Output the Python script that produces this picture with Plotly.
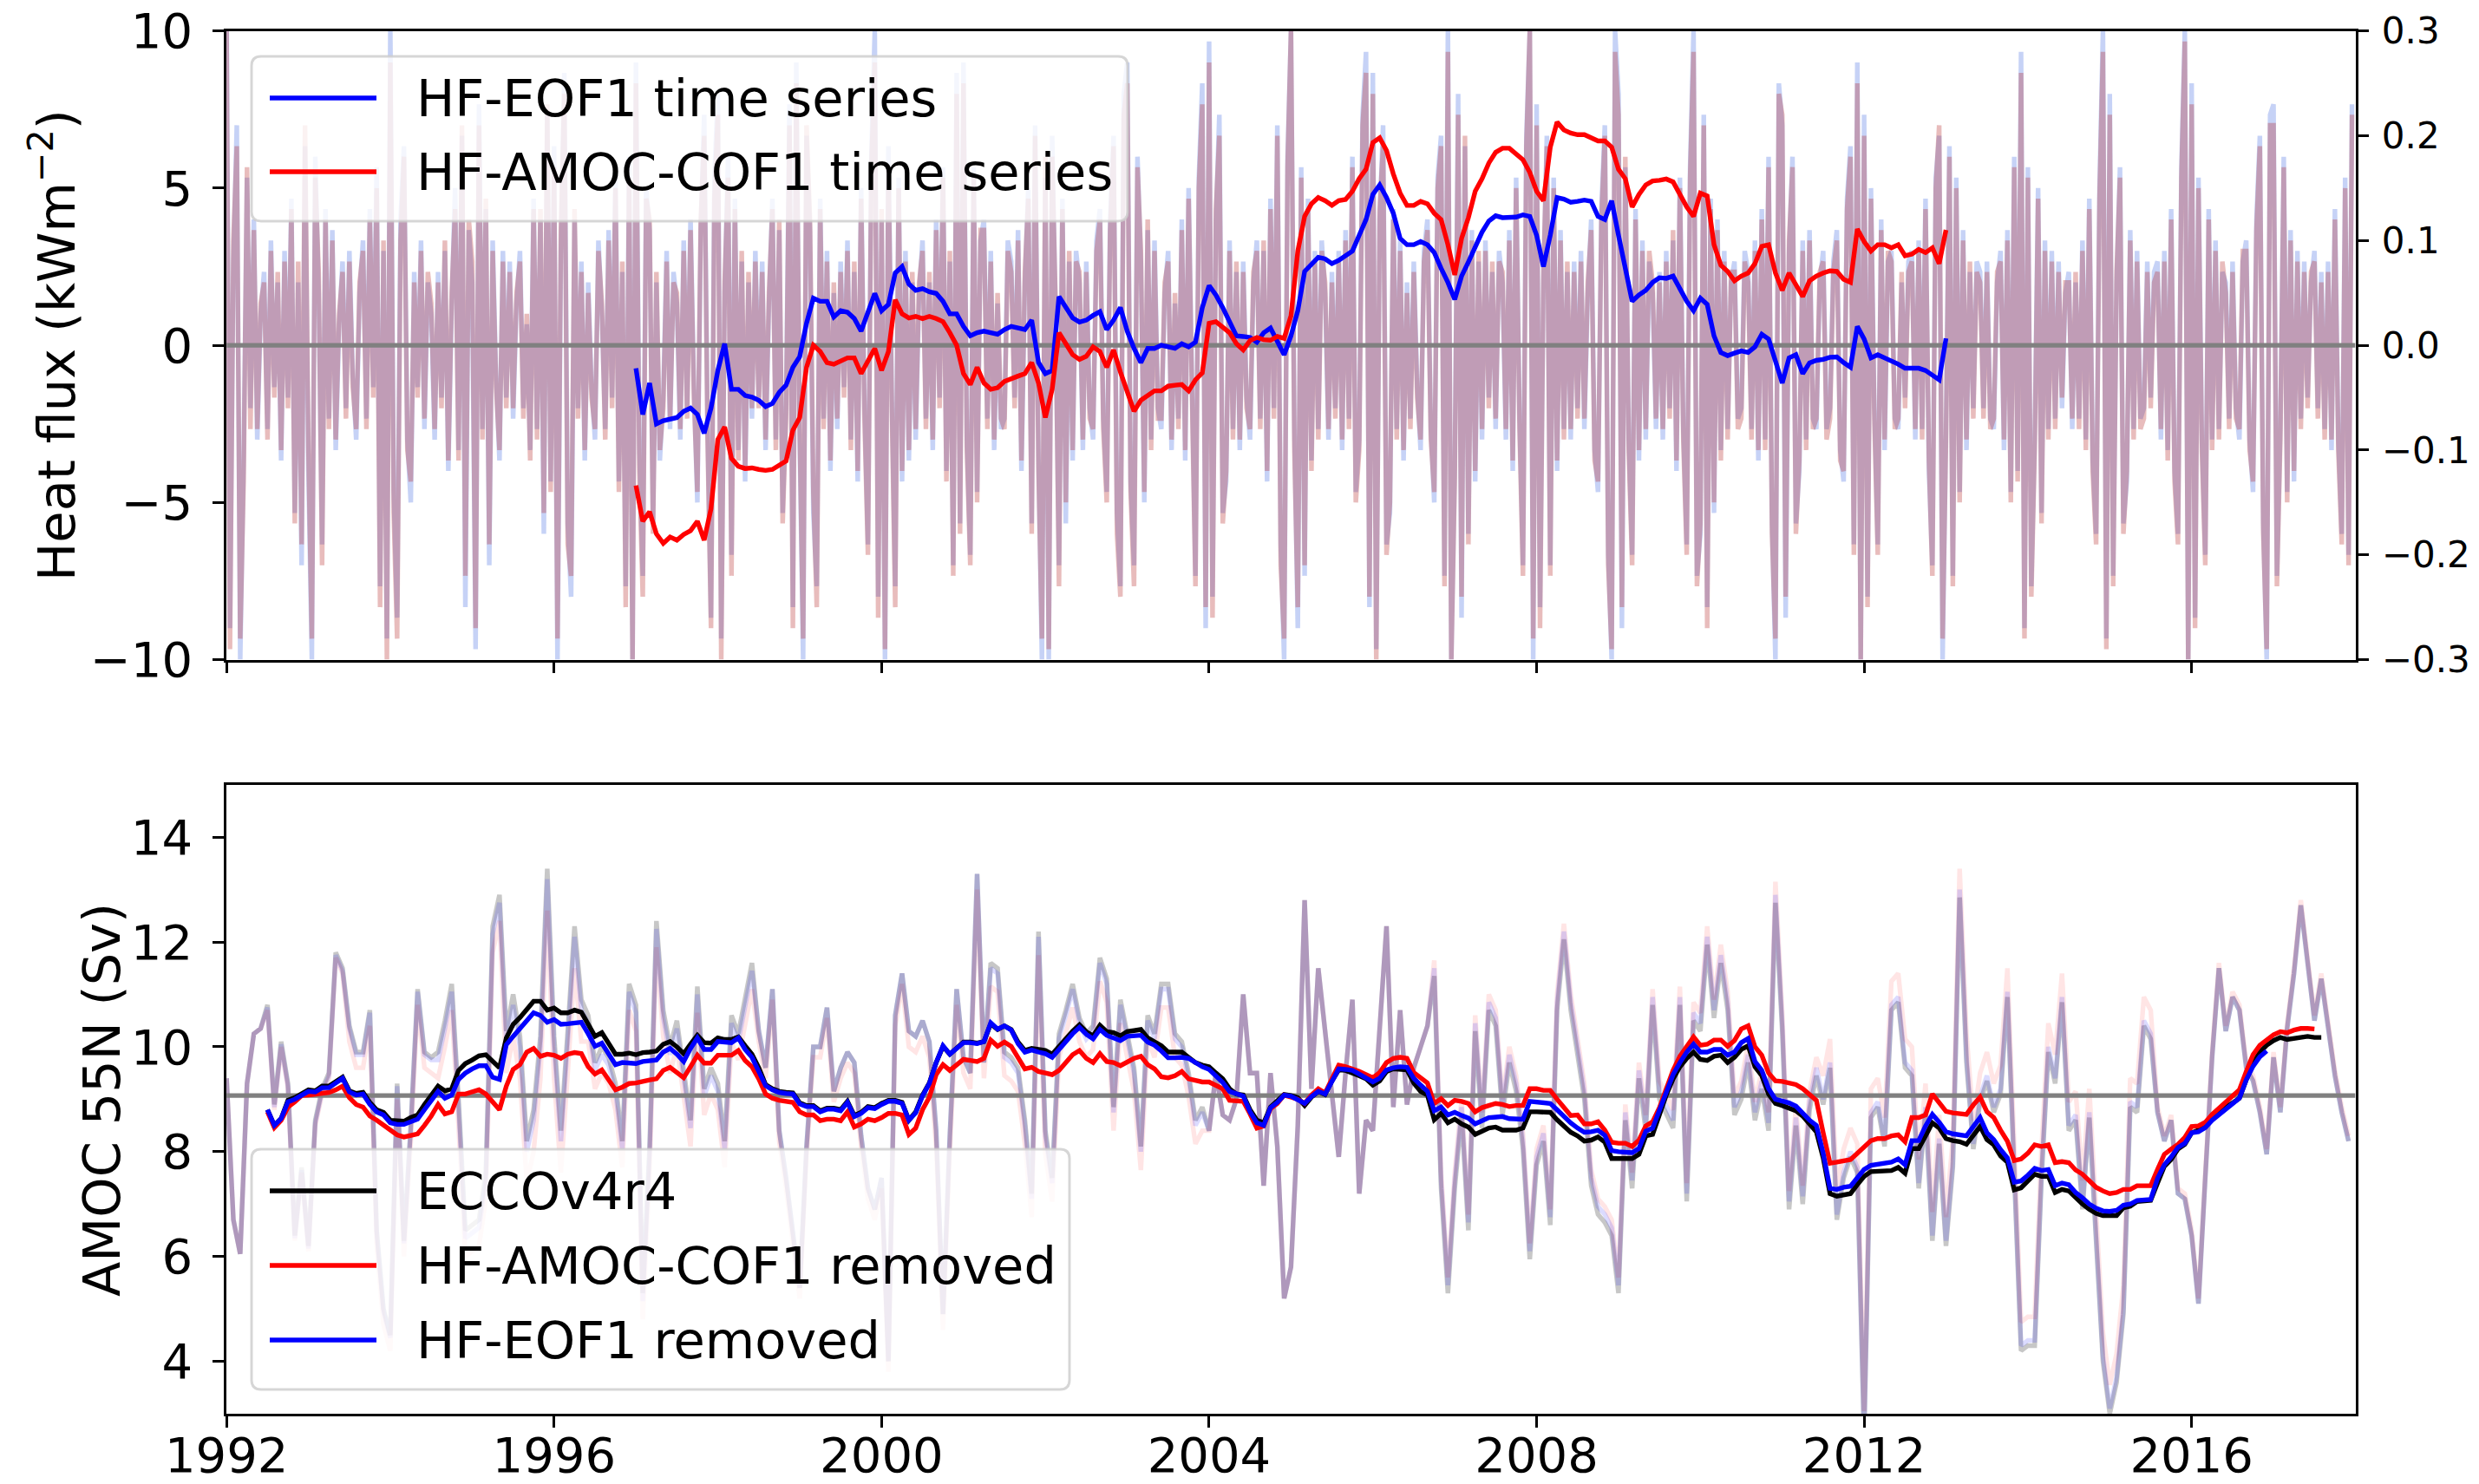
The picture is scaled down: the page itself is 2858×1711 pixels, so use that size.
import numpy as np
import plotly.graph_objects as go

W, H = 2858, 1711
FONT = "DejaVu Sans"

# ---------------- top panel ----------------
# High-frequency principal components (right axis, dimensionless), twice-monthly from Jan 1992, in hundredths
hf_eof1_pc_x100 = [
 33,-27,8,21,-30,-11,16,-6,12,-9,3,7,-8,10,-4,6,-11,9,-5,14,-16,6,-21,19,
 -12,-30,18,5,-19,13,-7,11,-10,2,8,-6,9,-3,-9,5,10,-7,13,-4,17,-23,9,-28,
 30,-14,-26,12,19,-9,-15,7,-4,10,-8,6,3,-9,7,-5,9,-12,4,15,-10,20,-25,11,
 6,-29,23,-8,13,-21,10,-3,-11,9,-5,8,-7,4,9,-6,2,-10,14,-8,12,-18,22,-13,
 19,-30,9,26,-17,-24,12,-6,8,-11,6,-4,-9,10,3,-8,11,-5,16,-13,7,-23,18,-30,
 27,-10,-22,15,11,-17,6,-11,-5,9,-8,7,4,-9,10,-6,12,-4,-15,11,22,-8,-26,16,
 24,-28,5,18,-20,14,-10,8,-13,6,-7,9,-5,8,-10,4,14,-9,11,-16,-6,23,-25,27,
 -9,-30,20,11,-16,-23,14,-7,9,-12,5,-8,8,-4,10,-9,7,-13,15,-6,-19,18,30,-24,
 12,-30,19,-5,-23,16,-13,9,-11,6,-9,5,10,-7,6,-10,12,-5,17,-12,8,-21,26,-17,
 27,-9,-20,17,-14,10,12,-7,9,-10,4,-8,-7,10,8,-5,11,-12,6,15,-17,21,-11,-30,
 16,-30,20,3,-21,14,-17,8,-11,9,6,-10,8,-6,-9,10,13,-7,-14,12,20,-16,-23,24,
 27,-13,-21,18,8,-15,11,-9,10,-6,-8,5,9,-10,4,-7,12,-11,15,-4,-22,16,25,-27,
 29,-24,12,22,-16,-13,10,-8,7,-10,8,-5,-9,6,10,-7,9,-13,14,-6,21,-19,-30,18,
 30,-8,-27,17,-22,14,-11,9,-8,10,5,-9,7,-6,9,-10,11,-7,18,-14,-9,22,28,-25,
 26,-29,12,21,-19,-16,13,-8,10,-11,6,-7,8,-4,-10,9,12,-8,-15,16,20,-22,30,-30,
 -12,24,-26,19,-18,11,-13,8,-9,10,-5,7,-8,9,6,-9,11,-12,16,-7,-21,20,30,-30,
 23,-25,6,20,-21,16,-12,11,-8,7,-9,8,-6,9,-8,5,12,-10,-14,13,21,-20,-30,30,
 24,-27,17,-9,-20,13,-11,10,-9,8,5,-8,7,-9,9,-6,10,-12,16,-8,-19,17,30,-22,
 -18,22,-25,14,-16,12,-10,9,-8,6,8,-7,-6,9,7,-8,10,-11,13,-9,18,-17,-30,25,
 21,-26,9,18,-17,-12,10,-9,11,-7,-8,6,9,-8,-6,8,11,-10,-13,14,19,-19,27,-30,
 22,-24,15,-6,-19,12,-10,8,9,-7,-8,6,-5,8,9,-9,10,-8,14,-12,-21,16,20,-30,
 -8,19,-22,16,-14,11,-10,7,-6,8,7,-6,8,-7,-8,6,9,-10,11,-14,18,-12,28,-27,
 17,-23,-9,15,-16,10,-8,9,-7,8,-6,5,7,-8,6,-7,10,-9,14,-11,-18,15,30,-28,
 24,-22,6,17,-17,-13,11,-8,9,-7,-6,8,-5,7,8,-9,9,-10,13,-12,-18,17,30,-30,
 25,-26,16,-9,-20,13,-9,10,-8,7,6,-7,8,-6,-9,8,10,-9,-14,12,20,-17,-30,22,
 23,-22,-8,18,-14,11,-13,9,-7,8,-5,6,9,-6,7,-8,8,-10,13,-9,-18,16,-20,23,
]
hf_amoc_cof1_pc_x100 = [
 30,-29,10,19,-28,-13,17,-8,11,-8,4,6,-9,9,-5,7,-10,8,-6,13,-17,8,-19,21,
 -10,-28,16,7,-21,12,-8,10,-9,3,7,-7,8,-4,-8,6,9,-8,12,-5,15,-25,10,-30,
 27,-16,-28,10,18,-10,-13,6,-5,9,-7,7,4,-8,6,-6,10,-11,5,13,-11,21,-22,12,
 8,-27,21,-9,14,-19,9,-4,-10,8,-6,7,-6,5,8,-7,3,-11,13,-9,13,-16,23,-14,
 17,-28,11,24,-19,-22,13,-7,7,-10,5,-5,-8,9,4,-9,10,-6,15,-14,8,-25,16,-30,
 25,-12,-24,14,12,-18,7,-10,-6,8,-7,6,5,-8,9,-7,11,-5,-14,12,20,-9,-27,14,
 22,-30,6,16,-22,13,-11,9,-12,7,-6,8,-6,7,-9,5,13,-10,12,-17,-7,21,-27,25,
 -8,-28,21,12,-14,-25,13,-8,8,-11,6,-7,7,-5,9,-10,8,-12,14,-7,-20,17,27,-26,
 13,-29,17,-6,-25,15,-12,8,-10,7,-8,6,9,-8,7,-9,11,-6,16,-13,9,-22,24,-18,
 25,-10,-21,16,-15,11,11,-8,8,-9,5,-7,-8,9,7,-6,10,-11,7,14,-18,20,-12,-28,
 18,-29,18,4,-23,13,-15,9,-10,8,7,-9,7,-7,-8,9,12,-8,-15,11,19,-18,-24,22,
 25,-14,-23,17,9,-14,12,-10,9,-7,-7,6,8,-9,5,-8,11,-10,14,-5,-23,15,23,-25,
 27,-26,13,20,-17,-12,9,-9,8,-9,7,-6,-8,7,9,-8,10,-12,13,-7,20,-21,-28,17,
 30,-10,-25,16,-21,13,-12,8,-9,9,6,-8,6,-7,8,-9,10,-8,17,-15,-10,21,26,-24,
 24,-30,13,19,-20,-15,12,-9,9,-10,5,-8,7,-5,-9,8,11,-9,-14,15,19,-23,28,-30,
 -13,22,-24,20,-19,10,-12,9,-8,9,-6,8,-7,8,7,-8,10,-11,15,-8,-22,19,30,-28,
 21,-27,7,19,-22,15,-11,10,-9,8,-8,7,-7,8,-7,6,11,-11,-13,12,20,-21,-29,28,
 22,-25,18,-10,-21,12,-10,9,-8,9,6,-7,6,-8,8,-7,11,-11,15,-9,-20,16,28,-23,
 -17,21,-27,13,-15,11,-11,8,-9,7,7,-8,-7,8,6,-9,9,-10,12,-10,17,-18,-28,24,
 22,-24,10,17,-18,-11,9,-10,10,-8,-7,7,8,-9,-7,7,10,-11,-12,13,18,-20,25,-30,
 20,-25,14,-7,-20,11,-9,9,8,-8,-7,7,-6,7,8,-8,9,-9,13,-11,-22,15,21,-28,
 -9,18,-23,15,-15,10,-9,8,-7,7,6,-7,7,-8,-7,7,8,-9,10,-15,17,-13,26,-28,
 16,-24,-10,14,-17,9,-9,8,-8,7,-5,6,6,-7,7,-8,9,-10,13,-12,-19,14,28,-29,
 22,-23,7,16,-18,-12,10,-9,8,-8,-7,7,-6,6,7,-8,8,-11,12,-13,-19,16,29,-30,
 23,-27,15,-10,-21,12,-10,9,-9,8,5,-8,7,-7,-8,9,9,-10,-13,11,19,-18,-29,21,
 21,-23,-9,17,-15,10,-12,8,-8,7,-6,7,8,-7,6,-9,7,-9,12,-10,-19,15,-21,22,
]

# Smoothed heat-flux time series (kW m^-2, left axis), monthly from Jan 1997 to Jan 2013
hf_eof1_series = [
 -0.73,-2.2,-1.2,-2.5,-2.4,-2.35,-2.3,-2.1,-2.0,-2.2,-2.8,-2.0,
 -0.8,0.05,-1.4,-1.4,-1.6,-1.65,-1.75,-1.95,-1.85,-1.5,-1.27,-0.7,
 -0.36,0.7,1.5,1.4,1.4,0.9,1.1,1.05,0.85,0.45,1.1,1.65,
 1.1,1.3,2.3,2.5,1.95,1.75,1.8,1.7,1.65,1.4,1.0,1.0,
 0.6,0.3,0.4,0.45,0.4,0.35,0.5,0.6,0.55,0.5,0.8,-0.55,
 -0.9,-0.8,1.55,1.2,0.87,0.74,0.8,0.95,1.07,0.5,0.8,1.2,
 0.45,-0.1,-0.55,-0.1,-0.1,0.0,-0.05,-0.1,0.05,-0.05,0.1,1.2,
 1.9,1.6,1.2,0.75,0.3,0.28,0.25,0.1,0.4,0.55,0.1,-0.3,
 0.3,1.1,2.35,2.6,2.8,2.75,2.6,2.7,2.85,3.0,3.5,4.0,
 4.8,5.1,4.7,4.2,3.4,3.2,3.2,3.3,3.2,2.95,2.45,2.0,
 1.46,2.2,2.65,3.1,3.6,3.95,4.12,4.06,4.06,4.08,4.15,4.1,
 3.5,2.5,3.5,4.7,4.65,4.55,4.58,4.62,4.58,4.1,4.0,4.6,
 3.5,2.5,1.4,1.6,1.75,2.0,2.15,2.13,2.2,1.8,1.4,1.1,
 1.5,1.3,0.3,-0.23,-0.33,-0.25,-0.18,-0.23,-0.05,0.35,0.2,-0.5,
 -1.2,-0.4,-0.3,-0.9,-0.56,-0.48,-0.45,-0.38,-0.37,-0.55,-0.7,0.6,
 0.2,-0.4,-0.3,-0.4,-0.49,-0.6,-0.73,-0.72,-0.73,-0.8,-0.95,-1.1,
 0.22,
]
hf_amoc_cof1_series = [
 -4.46,-5.6,-5.3,-6.0,-6.3,-6.1,-6.2,-6.02,-5.9,-5.6,-6.2,-5.2,
 -3.0,-2.6,-3.6,-3.85,-3.92,-3.9,-3.95,-3.98,-3.95,-3.8,-3.68,-2.7,
 -2.3,-0.7,0.0,-0.2,-0.55,-0.6,-0.49,-0.4,-0.4,-0.9,-0.5,-0.1,
 -0.8,-0.2,1.45,1.0,0.87,0.92,0.85,0.92,0.85,0.75,0.4,0.0,
 -0.9,-1.25,-0.7,-1.2,-1.4,-1.35,-1.15,-1.05,-0.98,-0.9,-0.55,-1.2,
 -2.3,-1.4,0.4,0.05,-0.3,-0.45,-0.35,-0.05,-0.2,-0.7,-0.15,-0.85,
 -1.5,-2.1,-1.75,-1.6,-1.45,-1.45,-1.3,-1.27,-1.25,-1.45,-1.1,-0.88,
 0.7,0.75,0.55,0.4,0.05,-0.15,0.15,0.25,0.18,0.16,0.28,0.22,
 0.94,3.0,4.1,4.5,4.7,4.6,4.45,4.6,4.64,4.9,5.3,5.6,
 6.45,6.6,6.2,5.45,4.84,4.45,4.45,4.58,4.5,4.2,4.0,3.2,
 2.24,3.4,4.06,4.9,5.3,5.8,6.14,6.27,6.27,6.1,5.9,5.5,
 4.9,4.6,6.3,7.1,6.85,6.75,6.7,6.7,6.6,6.5,6.5,6.3,
 5.6,5.3,4.4,4.8,5.1,5.23,5.25,5.29,5.2,4.8,4.4,4.1,
 4.84,4.75,3.2,2.55,2.35,2.05,2.2,2.3,2.6,3.15,3.2,2.3,
 1.75,2.3,1.9,1.55,2.05,2.2,2.3,2.37,2.35,2.1,2.0,3.7,
 3.3,3.0,3.2,3.2,3.1,3.2,2.85,2.9,3.05,2.95,3.1,2.6,
 3.67,
]

# ---------------- bottom panel ----------------
# AMOC at 55N (Sv), monthly from Jan 1992
amoc_ecco = [
 9.4,6.7,6.05,9.3,10.25,10.35,10.8,8.9,10.1,9.3,6.4,7.7,
 6.2,8.6,9.2,9.5,11.8,11.5,10.4,9.9,9.9,10.7,6.5,5.0,
 4.5,9.3,6.3,8.5,11.1,9.9,9.8,9.9,10.5,11.2,9.0,6.5,
 6.6,6.7,7.6,12.3,12.9,10.3,11.0,10.2,8.2,8.8,10.2,13.4,
 10.2,8.4,10.3,12.3,10.9,10.6,9.7,10.0,9.8,9.3,8.2,11.2,
 10.8,5.3,8.1,12.4,10.7,10.0,10.5,9.6,8.6,11.15,9.2,9.6,
 9.3,8.2,10.6,10.25,10.95,11.6,10.3,9.6,11.1,8.4,7.5,6.5,
 5.4,8.1,10.0,10.0,10.75,9.15,9.6,9.9,9.7,8.3,7.3,6.9,
 7.5,4.0,10.6,11.4,10.3,10.2,10.5,10.1,8.4,4.9,8.3,11.1,
 9.8,9.5,13.3,9.7,11.6,11.5,9.9,9.8,9.6,8.6,7.2,12.2,
 8.4,7.5,10.25,10.7,11.2,10.55,10.25,10.4,11.7,11.3,8.85,10.9,
 10.3,9.6,8.1,10.6,10.25,11.2,11.2,10.25,10.1,9.5,8.6,8.85,
 8.4,9.5,8.7,8.6,9.0,11.0,9.5,9.5,7.35,9.5,8.1,5.2,
 5.8,8.5,12.8,9.2,11.5,10.25,9.0,7.9,9.5,10.9,7.2,8.6,
 8.4,10.25,12.3,8.85,10.7,8.9,9.6,10.0,10.4,11.35,7.3,5.3,
 7.3,8.7,6.5,10.3,8.45,10.7,10.4,8.7,9.7,9.15,8.05,5.95,
 7.75,8.2,6.6,10.7,12.05,10.7,9.8,9.0,7.35,6.8,6.65,6.4,
 5.3,8.6,7.3,9.4,8.4,10.8,9.0,8.7,8.45,10.8,7.05,10.5,
 10.3,11.95,10.55,11.6,10.7,8.7,9.0,9.7,8.6,9.2,8.4,12.75,
 10.3,6.9,8.5,7.0,8.8,9.45,8.9,9.6,6.7,7.5,7.9,7.6,
 2.5,8.65,8.85,8.1,10.7,10.85,9.6,9.45,7.3,8.75,6.3,8.15,
 6.2,7.7,12.85,9.7,8.05,8.95,9.35,8.75,9.1,10.95,7.5,4.2,
 4.3,4.3,7.5,9.9,9.3,10.85,8.4,8.6,6.9,8.65,6.3,4.0,
 3.0,3.6,4.9,8.85,8.75,10.4,10.15,8.75,8.2,8.6,7.2,7.1,
 6.4,5.1,7.5,9.8,11.5,10.3,10.95,10.7,9.6,9.35,8.75,7.95,
 9.8,8.75,10.35,11.4,12.7,11.55,10.5,11.3,10.35,9.45,8.75,8.2,
]
amoc_cof1_removed = [
 9.4,6.7,6.05,9.3,10.25,10.35,10.7,8.8,10.0,9.2,6.3,7.6,
 6.1,8.5,9.1,9.4,11.7,11.4,10.1,9.6,9.6,10.4,6.2,4.7,
 4.2,9.0,6.0,8.2,10.8,9.6,9.5,9.4,10.0,10.7,8.5,6.0,
 6.1,6.2,7.1,11.8,12.4,9.5,10.2,9.4,7.4,8.0,9.4,12.6,
 9.4,7.6,9.5,11.5,10.1,10.1,9.2,9.5,9.3,8.8,7.7,10.7,
 10.3,4.8,7.6,11.9,10.2,9.5,10.0,9.1,8.1,10.65,8.7,9.1,
 8.8,7.7,10.1,9.75,10.45,11.1,10.1,9.4,10.9,8.2,7.3,6.3,
 5.2,7.9,9.8,9.8,10.55,8.95,9.4,9.7,9.5,8.1,7.1,6.7,
 7.3,3.8,10.4,11.2,10.0,9.9,10.2,9.8,8.1,4.6,8.0,10.8,
 9.5,9.2,13.0,9.4,11.15,11.05,9.45,9.35,9.15,8.15,6.75,11.75,
 7.95,7.05,9.8,10.25,10.75,10.1,9.8,9.95,11.25,10.85,8.4,10.45,
 9.85,9.15,7.65,10.15,9.8,10.75,10.75,9.8,9.65,9.05,8.15,8.4,
 8.4,9.5,8.7,8.6,9.0,11.0,9.5,9.5,7.35,9.5,8.1,5.2,
 5.8,8.5,12.8,9.2,11.5,10.25,9.0,7.9,9.5,10.9,7.2,8.6,
 8.4,10.25,12.3,8.85,10.7,8.9,9.6,10.0,10.4,11.65,7.6,5.6,
 7.6,9.0,6.8,10.6,8.75,11.0,10.7,9.0,10.0,9.45,8.35,6.25,
 8.05,8.5,6.9,11.0,12.35,11.0,10.1,9.3,7.65,7.1,6.95,6.7,
 5.6,8.9,7.6,9.7,8.7,11.1,9.35,9.05,8.8,11.15,7.4,10.85,
 10.65,12.3,10.9,11.95,11.05,9.05,9.35,10.05,8.95,9.55,8.75,13.15,
 10.65,7.25,8.85,7.35,9.15,9.8,9.45,10.15,7.25,8.05,8.45,8.15,
 3.05,9.2,9.4,8.65,11.25,11.4,10.15,10.0,7.85,9.3,6.85,8.7,
 6.75,8.25,13.4,10.25,8.6,9.5,9.9,9.3,9.65,11.5,8.05,4.75,
 4.85,4.85,8.05,10.45,9.85,11.4,8.95,9.15,7.45,9.2,6.85,4.55,
 3.55,4.15,5.45,9.4,9.3,10.95,10.7,8.85,8.3,8.7,7.3,7.2,
 6.5,5.2,7.6,9.9,11.6,10.4,11.05,10.8,9.7,9.45,8.85,8.05,
 9.9,8.85,10.45,11.5,12.8,11.65,10.6,11.4,10.45,9.55,8.85,8.3,
]
amoc_eof1_removed = [
 9.4,6.7,6.05,9.3,10.25,10.35,10.75,8.85,10.05,9.25,6.35,7.65,
 6.15,8.55,9.15,9.45,11.75,11.45,10.35,9.85,9.85,10.65,6.45,4.95,
 4.45,9.25,6.25,8.45,11.05,9.85,9.75,9.75,10.35,11.05,8.85,6.35,
 6.45,6.55,7.45,12.15,12.75,10.1,10.8,10.0,8.0,8.6,10.0,13.2,
 10.0,8.2,10.1,12.1,10.7,10.45,9.55,9.85,9.65,9.15,8.05,11.05,
 10.65,5.15,7.95,12.25,10.55,9.85,10.35,9.45,8.45,11.0,9.05,9.45,
 9.15,8.05,10.45,10.1,10.8,11.45,10.3,9.6,11.1,8.4,7.5,6.5,
 5.4,8.1,10.0,10.0,10.75,9.15,9.6,9.9,9.7,8.3,7.3,6.9,
 7.5,4.0,10.6,11.4,10.3,10.2,10.5,10.1,8.4,4.9,8.3,11.1,
 9.8,9.5,13.3,9.7,11.5,11.4,9.8,9.7,9.5,8.5,7.1,12.1,
 8.3,7.4,10.15,10.6,11.1,10.45,10.15,10.3,11.6,11.2,8.75,10.8,
 10.2,9.5,8.0,10.5,10.15,11.1,11.1,10.15,10.0,9.4,8.5,8.75,
 8.4,9.5,8.7,8.6,9.0,11.0,9.5,9.5,7.35,9.5,8.1,5.2,
 5.8,8.5,12.8,9.2,11.5,10.25,9.0,7.9,9.5,10.9,7.2,8.6,
 8.4,10.25,12.3,8.85,10.7,8.9,9.6,10.0,10.4,11.5,7.45,5.45,
 7.45,8.85,6.65,10.45,8.6,10.85,10.55,8.85,9.85,9.3,8.2,6.1,
 7.9,8.35,6.75,10.85,12.2,10.85,9.95,9.15,7.5,6.95,6.8,6.55,
 5.45,8.75,7.45,9.55,8.55,10.95,9.15,8.85,8.6,10.95,7.2,10.65,
 10.45,12.1,10.7,11.75,10.85,8.85,9.15,9.85,8.75,9.35,8.55,12.9,
 10.45,7.05,8.65,7.15,8.95,9.6,9.0,9.7,6.8,7.6,8.0,7.7,
 2.6,8.75,8.95,8.2,10.8,10.95,9.7,9.55,7.4,8.85,6.4,8.25,
 6.3,7.8,13.0,9.8,8.15,9.05,9.45,8.85,9.2,11.05,7.6,4.3,
 4.4,4.4,7.6,10.0,9.4,10.95,8.5,8.7,7.0,8.75,6.4,4.1,
 3.1,3.7,5.0,8.95,8.85,10.5,10.25,8.75,8.2,8.6,7.2,7.1,
 6.4,5.1,7.5,9.8,11.5,10.3,10.95,10.7,9.6,9.35,8.75,7.95,
 9.8,8.75,10.35,11.4,12.7,11.55,10.5,11.3,10.35,9.45,8.75,8.2,
]

# 12-month running means (Sv), monthly from Jul 1992
amoc_ecco_rm = [
 8.8,8.5,8.63,8.98,9.03,9.1,
 9.18,9.16,9.25,9.25,9.33,9.42,9.16,9.11,9.13,8.94,8.8,8.75,
 8.6,8.58,8.58,8.65,8.7,8.9,9.07,9.25,9.16,9.2,9.55,9.68,
 9.75,9.83,9.85,9.73,9.6,10.17,10.43,10.56,10.7,10.87,10.87,10.7,
 10.74,10.65,10.65,10.7,10.66,10.43,10.2,10.27,10.05,9.86,9.86,9.88,
 9.85,9.89,9.9,9.92,10.05,10.1,10.0,9.87,10.05,10.22,10.08,10.07,
 10.17,10.14,10.14,10.19,10.02,9.86,9.6,9.28,9.2,9.15,9.13,9.12,
 8.93,8.88,8.88,8.78,8.83,8.83,8.8,8.96,8.69,8.75,8.86,8.84,
 8.92,8.98,8.98,8.94,8.6,8.76,9.08,9.31,9.7,10.01,9.86,9.98,
 10.09,10.09,10.07,10.1,10.44,10.33,10.4,10.33,10.09,9.93,9.97,9.95,
 9.93,9.86,10.01,10.15,10.3,10.42,10.29,10.21,10.41,10.29,10.27,10.21,
 10.29,10.31,10.33,10.17,10.1,10.02,9.9,9.9,9.9,9.8,9.7,9.65,
 9.62,9.5,9.39,9.2,9.1,9.08,8.8,8.6,8.55,8.85,8.96,9.09,
 9.07,9.03,8.88,9.04,9.15,9.09,9.35,9.56,9.55,9.51,9.45,9.39,
 9.27,9.35,9.53,9.58,9.58,9.56,9.31,9.15,9.08,8.61,8.73,8.55,
 8.62,8.53,8.47,8.33,8.39,8.45,8.47,8.41,8.41,8.41,8.45,8.76,
 8.76,8.75,8.75,8.61,8.49,8.37,8.3,8.2,8.22,8.28,8.18,7.87,
 7.87,7.87,7.87,7.95,8.3,8.33,8.73,9.08,9.39,9.62,9.78,9.9,
 9.76,9.74,9.82,9.84,9.7,9.8,9.95,10.02,9.62,9.45,9.1,8.92,
 8.88,8.83,8.78,8.68,8.52,8.38,7.88,7.2,7.15,7.18,7.2,7.37,
 7.53,7.62,7.63,7.65,7.64,7.7,7.59,8.06,8.06,8.3,8.55,8.45,
 8.25,8.21,8.19,8.14,8.32,8.48,8.23,8.13,7.92,7.8,7.27,7.31,
 7.44,7.57,7.53,7.53,7.22,7.28,7.25,7.12,7.0,6.9,6.82,6.78,
 6.78,6.78,6.93,6.96,7.05,7.05,7.07,7.4,7.72,7.85,8.05,8.14,
 8.36,8.41,8.49,8.63,8.74,8.85,8.93,9.02,9.37,9.68,9.9,10.03,
 10.12,10.18,10.14,10.16,10.2,10.2,10.18,10.18,
]
amoc_cof1_removed_rm = [
 8.76,8.46,8.6,8.85,8.95,9.07,
 9.08,9.1,9.1,9.13,9.18,9.25,9.03,8.9,8.85,8.68,8.6,8.5,
 8.4,8.32,8.28,8.3,8.34,8.5,8.68,8.9,8.72,8.76,9.1,9.1,
 9.13,9.18,9.1,8.94,8.8,9.25,9.57,9.66,9.9,9.97,9.82,9.86,
 9.84,9.78,9.86,9.89,9.87,9.62,9.48,9.56,9.35,9.18,9.23,9.3,
 9.31,9.35,9.37,9.39,9.55,9.61,9.51,9.41,9.62,9.84,9.69,9.69,
 9.84,9.84,9.84,9.93,9.74,9.62,9.39,9.1,9.02,8.98,8.96,8.94,
 8.76,8.7,8.7,8.59,8.62,8.62,8.59,8.76,8.47,8.53,8.62,8.59,
 8.65,8.73,8.73,8.7,8.33,8.45,8.8,9.04,9.47,9.66,9.55,9.66,
 9.76,9.74,9.72,9.78,10.13,10.01,10.09,10.01,9.78,9.58,9.61,9.53,
 9.5,9.47,9.55,9.7,9.85,9.93,9.78,9.7,9.87,9.72,9.7,9.64,
 9.72,9.78,9.82,9.66,9.58,9.43,9.41,9.45,9.53,9.39,9.36,9.33,
 9.33,9.26,9.2,8.98,8.97,8.96,8.72,8.45,8.49,8.82,8.92,9.08,
 9.04,9.0,8.92,9.08,9.2,9.12,9.39,9.65,9.62,9.58,9.53,9.47,
 9.41,9.51,9.7,9.78,9.8,9.78,9.51,9.41,9.31,8.92,9.01,8.88,
 8.98,8.96,8.92,8.76,8.84,8.88,8.92,8.9,8.86,8.88,8.88,9.2,
 9.2,9.17,9.17,9.0,8.84,8.69,8.7,8.53,8.53,8.57,8.41,8.18,
 8.16,8.16,8.1,8.22,8.49,8.57,8.84,9.22,9.55,9.82,10.01,10.19,
 10.03,10.05,10.13,10.13,10.01,10.12,10.34,10.4,10.0,9.84,9.5,9.35,
 9.34,9.32,9.28,9.2,9.1,8.98,8.36,7.78,7.8,7.83,7.85,7.97,
 8.1,8.21,8.25,8.25,8.3,8.32,8.19,8.65,8.65,8.7,9.1,8.95,
 8.77,8.74,8.72,8.71,8.89,9.04,8.76,8.65,8.41,8.2,7.83,7.86,
 7.97,8.13,8.1,8.13,7.79,7.81,7.79,7.65,7.57,7.45,7.32,7.25,
 7.2,7.22,7.28,7.28,7.35,7.35,7.35,7.66,7.95,8.05,8.14,8.27,
 8.48,8.49,8.56,8.71,8.83,8.95,9.07,9.18,9.53,9.85,10.03,10.14,
 10.23,10.29,10.27,10.32,10.35,10.35,10.34,
]
amoc_eof1_removed_rm = [
 8.8,8.5,8.63,8.95,9.0,9.08,
 9.15,9.14,9.22,9.22,9.3,9.4,9.14,9.08,9.1,8.9,8.76,8.7,
 8.55,8.52,8.52,8.56,8.62,8.8,8.98,9.15,9.02,9.08,9.38,9.5,
 9.58,9.64,9.64,9.42,9.38,10.04,10.2,10.34,10.5,10.65,10.6,10.47,
 10.52,10.43,10.44,10.45,10.47,10.25,10.01,10.07,9.88,9.66,9.7,9.7,
 9.68,9.72,9.74,9.75,9.9,9.97,9.86,9.72,9.97,10.17,9.95,9.95,
 10.1,10.08,10.08,10.17,9.95,9.8,9.55,9.26,9.18,9.13,9.11,9.1,
 8.91,8.86,8.86,8.76,8.81,8.81,8.78,8.94,8.67,8.73,8.84,8.82,
 8.9,8.96,8.96,8.92,8.6,8.74,9.06,9.3,9.7,10.02,9.86,9.98,
 10.08,10.08,10.06,10.1,10.46,10.34,10.4,10.32,10.06,9.9,9.94,9.9,
 9.87,9.8,9.96,10.1,10.25,10.37,10.24,10.15,10.33,10.22,10.17,10.12,
 10.2,10.22,10.22,10.09,10.03,9.92,9.79,9.79,9.8,9.78,9.7,9.62,
 9.57,9.45,9.32,9.15,9.1,9.06,8.76,8.55,8.5,8.84,8.94,9.08,
 9.06,9.0,8.92,9.05,9.15,9.1,9.36,9.58,9.57,9.55,9.48,9.4,
 9.33,9.4,9.56,9.6,9.62,9.61,9.4,9.27,9.15,8.78,8.85,8.7,
 8.75,8.69,8.64,8.53,8.58,8.65,8.66,8.67,8.63,8.62,8.62,8.96,
 8.95,8.93,8.92,8.8,8.67,8.55,8.45,8.37,8.38,8.41,8.31,8.02,
 8.0,8.0,7.98,8.06,8.39,8.45,8.8,9.15,9.47,9.7,9.9,10.05,
 9.9,9.9,9.95,9.95,9.84,9.9,10.08,10.16,9.72,9.55,9.2,9.0,
 8.97,8.93,8.87,8.72,8.6,8.5,7.97,7.3,7.28,7.32,7.34,7.5,
 7.66,7.74,7.76,7.77,7.8,7.86,7.75,8.21,8.21,8.49,8.71,8.56,
 8.38,8.34,8.32,8.3,8.48,8.65,8.36,8.23,8.04,7.88,7.42,7.44,
 7.55,7.68,7.64,7.66,7.35,7.4,7.37,7.22,7.12,7.0,6.92,6.87,
 6.86,6.88,6.98,7.0,7.07,7.07,7.09,7.49,7.75,7.9,8.08,8.16,
 8.36,8.38,8.46,8.6,8.7,8.8,8.9,9.02,9.37,9.63,9.81,9.92,
]

amoc_mean = 9.07  # long-term mean of the ECCOv4r4 AMOC
year_ticks = [1992, 1996, 2000, 2004, 2008, 2012, 2016]
heat_flux_ticks = [-10, -5, 0, 5, 10]
pc_ticks = [-0.3, -0.2, -0.1, 0.0, 0.1, 0.2, 0.3]
amoc_ticks = [4, 6, 8, 10, 12, 14]

top_labels = ["HF-EOF1 time series", "HF-AMOC-COF1 time series"]
bottom_labels = ["ECCOv4r4", "HF-AMOC-COF1 removed", "HF-EOF1 removed"]

# ---------------- time coordinates ----------------
t_pc = 1992 + np.arange(len(hf_eof1_pc_x100)) / 24
t_pc_r = 1992 + np.arange(len(hf_amoc_cof1_pc_x100)) / 24
t_series = 1997 + np.arange(len(hf_eof1_series)) / 12
t_series_r = 1997 + np.arange(len(hf_amoc_cof1_series)) / 12
t_amoc = 1992 + np.arange(len(amoc_ecco)) / 12
t_rm = lambda arr: 1992 + (6 + np.arange(len(arr))) / 12

LW = 5.4
fig = go.Figure()

# top panel: noisy PCs on the right-hand axis (drawn first, underneath)
fig.add_trace(go.Scatter(x=t_pc, y=np.array(hf_eof1_pc_x100) / 100, mode="lines",
                         line=dict(color="rgba(65,105,225,0.3)", width=LW, simplify=False),
                         xaxis="x", yaxis="y", hoverinfo="skip"))
fig.add_trace(go.Scatter(x=t_pc_r, y=np.array(hf_amoc_cof1_pc_x100) / 100, mode="lines",
                         line=dict(color="rgba(178,34,34,0.3)", width=LW, simplify=False),
                         xaxis="x", yaxis="y", hoverinfo="skip"))
# zero line and smoothed series on the heat-flux axis
fig.add_trace(go.Scatter(x=[1992, 2018], y=[0, 0], mode="lines",
                         line=dict(color="gray", width=LW), xaxis="x", yaxis="y2"))
fig.add_trace(go.Scatter(x=t_series, y=hf_eof1_series, mode="lines",
                         line=dict(color="blue", width=LW), xaxis="x", yaxis="y2"))
fig.add_trace(go.Scatter(x=t_series_r, y=hf_amoc_cof1_series, mode="lines",
                         line=dict(color="red", width=LW), xaxis="x", yaxis="y2"))

# bottom panel: monthly AMOC (faint), mean line, running means (bold)
fig.add_trace(go.Scatter(x=t_amoc, y=amoc_ecco, mode="lines",
                         line=dict(color="rgba(0,0,0,0.22)", width=LW), xaxis="x2", yaxis="y3"))
fig.add_trace(go.Scatter(x=t_amoc, y=amoc_cof1_removed, mode="lines",
                         line=dict(color="rgba(255,0,0,0.1)", width=LW), xaxis="x2", yaxis="y3"))
fig.add_trace(go.Scatter(x=t_amoc, y=amoc_eof1_removed, mode="lines",
                         line=dict(color="rgba(0,0,255,0.14)", width=LW), xaxis="x2", yaxis="y3"))
fig.add_trace(go.Scatter(x=[1992, 2018], y=[amoc_mean, amoc_mean], mode="lines",
                         line=dict(color="gray", width=LW), xaxis="x2", yaxis="y3"))
fig.add_trace(go.Scatter(x=t_rm(amoc_ecco_rm), y=amoc_ecco_rm, mode="lines",
                         line=dict(color="black", width=LW), xaxis="x2", yaxis="y3"))
fig.add_trace(go.Scatter(x=t_rm(amoc_cof1_removed_rm), y=amoc_cof1_removed_rm, mode="lines",
                         line=dict(color="red", width=LW), xaxis="x2", yaxis="y3"))
fig.add_trace(go.Scatter(x=t_rm(amoc_eof1_removed_rm), y=amoc_eof1_removed_rm, mode="lines",
                         line=dict(color="blue", width=LW), xaxis="x2", yaxis="y3"))

# ---------------- layout ----------------
XD = [261.2 / W, 2715.5 / W]
TOP_D = [1 - 760.5 / H, 1 - 35.7 / H]
BOT_D = [1 - 1630 / H, 1 - 904.8 / H]
AX_W = 2.9
TICK_LEN = 13
tick_font = dict(family=FONT, size=56, color="black")
text_font = dict(family=FONT, size=59, color="black")
small = dict(family=FONT, size=42, color="black")

def axis_common(**kw):
    d = dict(showline=True, linecolor="black", linewidth=AX_W, ticks="outside",
             ticklen=TICK_LEN, tickwidth=AX_W, tickcolor="black", showgrid=False,
             zeroline=False, automargin=False, fixedrange=True)
    d.update(kw)
    return d

def minus(v, fmt):
    return format(v, fmt).replace("-", "\u2212")

fig.update_layout(
    width=W, height=H,
    margin=dict(l=0, r=0, t=0, b=0, pad=0),
    paper_bgcolor="white", plot_bgcolor="white",
    showlegend=False,
    font=tick_font,
    xaxis=axis_common(domain=XD, anchor="y", range=[1992, 2018], tickvals=year_ticks,
                      showticklabels=False, mirror=True),
    yaxis=axis_common(domain=TOP_D, anchor="x", side="right", range=[-0.3, 0.3],
                      tickvals=pc_ticks, ticktext=[minus(v, ".1f") for v in pc_ticks],
                      tickfont=small, ticklabelstandoff=6),
    yaxis2=axis_common(anchor="x", overlaying="y", side="left", range=[-10, 10],
                       tickvals=heat_flux_ticks, ticktext=[minus(v, "d") for v in heat_flux_ticks],
                       tickfont=tick_font, ticklabelstandoff=12),
    xaxis2=axis_common(domain=XD, anchor="y3", range=[1992, 2018], tickvals=year_ticks,
                       ticktext=[str(v) for v in year_ticks], tickfont=tick_font, mirror=True,
                       ticklabelstandoff=-16),
    yaxis3=axis_common(domain=BOT_D, anchor="x2", range=[3, 15], tickvals=amoc_ticks,
                       ticktext=[str(v) for v in amoc_ticks], tickfont=tick_font, mirror=True,
                       ticklabelstandoff=12),
)

px = lambda v: v / W
py = lambda v: 1 - v / H

def rounded_box(x0, y0, x1, y1, r=11):
    return (f"M{px(x0 + r)},{py(y0)} L{px(x1 - r)},{py(y0)} Q{px(x1)},{py(y0)} {px(x1)},{py(y0 + r)} "
            f"L{px(x1)},{py(y1 - r)} Q{px(x1)},{py(y1)} {px(x1 - r)},{py(y1)} "
            f"L{px(x0 + r)},{py(y1)} Q{px(x0)},{py(y1)} {px(x0)},{py(y1 - r)} "
            f"L{px(x0)},{py(y0 + r)} Q{px(x0)},{py(y0)} {px(x0 + r)},{py(y0)} Z")

shapes = []
annotations = []

def legend(box, rows, x_line=(311, 434), x_text=478):
    shapes.append(dict(type="path", xref="paper", yref="paper", layer="above",
                       path=rounded_box(*box), fillcolor="rgba(255,255,255,0.8)",
                       line=dict(color="rgba(204,204,204,0.8)", width=AX_W)))
    for y, color, text in rows:
        shapes.append(dict(type="line", xref="paper", yref="paper", layer="above",
                           x0=px(x_line[0]), x1=px(x_line[1]), y0=py(y), y1=py(y),
                           line=dict(color=color, width=LW)))
        annotations.append(dict(xref="paper", yref="paper", x=px(x_text), y=py(y),
                                xanchor="left", yanchor="middle", text=text,
                                showarrow=False, font=text_font))

legend((290, 65, 1300, 255), [(113, "blue", top_labels[0]), (198, "red", top_labels[1])])
legend((290, 1325, 1233, 1602), [(1373, "black", bottom_labels[0]),
                                 (1459, "red", bottom_labels[1]),
                                 (1545, "blue", bottom_labels[2])])

# axis titles
annotations.append(dict(xref="paper", yref="paper", x=px(62), y=py(398), textangle=-90,
                        text="Heat flux (kWm<sup>\u22122</sup>)", showarrow=False, font=text_font,
                        xanchor="center", yanchor="middle"))
annotations.append(dict(xref="paper", yref="paper", x=px(117), y=py(1268), textangle=-90,
                        text="AMOC 55N (Sv)", showarrow=False, font=text_font,
                        xanchor="center", yanchor="middle"))

fig.update_layout(shapes=shapes, annotations=annotations)
fig.write_html("out.html")
